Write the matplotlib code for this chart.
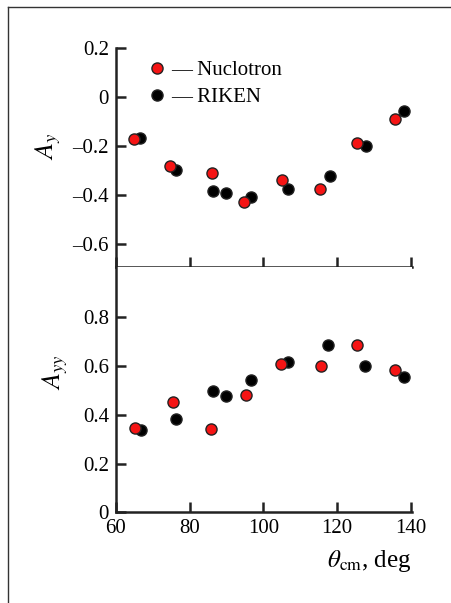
import numpy as np
import matplotlib
matplotlib.use("Agg")
import matplotlib.pyplot as plt
from matplotlib.lines import Line2D

plt.rcParams['font.family'] = ['Liberation Serif', 'DejaVu Serif']
plt.rcParams['mathtext.fontset'] = 'stix'

# A_y data
ay_nuc_theta = [64.9, 74.6, 86.0, 94.8, 104.9, 115.3, 125.5, 135.6]
ay_nuc = [-0.171, -0.280, -0.312, -0.430, -0.339, -0.377, -0.189, -0.090]
ay_rik_theta = [66.6, 76.2, 86.2, 89.9, 96.7, 106.7, 118.1, 127.7, 138.1]
ay_rik = [-0.169, -0.299, -0.384, -0.393, -0.407, -0.377, -0.322, -0.199, -0.057]

# A_yy data
ayy_nuc_theta = [65.1, 75.4, 85.7, 95.4, 104.8, 115.6, 125.5, 135.6]
ayy_nuc = [0.347, 0.451, 0.341, 0.482, 0.609, 0.598, 0.688, 0.584]
ayy_rik_theta = [66.7, 76.3, 86.2, 89.9, 96.7, 106.7, 117.6, 127.5, 138.1]
ayy_rik = [0.337, 0.382, 0.497, 0.475, 0.543, 0.616, 0.688, 0.601, 0.554]

xticks = [60, 80, 100, 120, 140]
ay_ticks = [0.2, 0, -0.2, -0.4, -0.6]
ayy_ticks = [0, 0.2, 0.4, 0.6, 0.8]

fig = plt.figure(figsize=(4.52, 6.03), dpi=100)

# frame lines (top and left)
fig.add_artist(Line2D([8/452, 1], [1 - 7/603, 1 - 7/603], transform=fig.transFigure, color='#333333', lw=1.0))
fig.add_artist(Line2D([8/452, 8/452], [0, 1 - 7/603], transform=fig.transFigure, color='#333333', lw=1.0))

left, width = 0.2566, 0.6549
ax1 = fig.add_axes([left, 0.5572, width, 0.9204 - 0.5572])
ax2 = fig.add_axes([left, 0.1504, width, 0.5572 - 0.1504])

mk = dict(linestyle='none', marker='o', markersize=8, markeredgecolor='#222222', markeredgewidth=1.0)

ax1.plot(ay_nuc_theta, ay_nuc, markerfacecolor='#f51414', label='— Nuclotron', zorder=3, **mk)
ax1.plot(ay_rik_theta, ay_rik, markerfacecolor='black', label='— RIKEN', zorder=2, **mk)
ax2.plot(ayy_nuc_theta, ayy_nuc, markerfacecolor='#f51414', zorder=3, **mk)
ax2.plot(ayy_rik_theta, ayy_rik, markerfacecolor='black', zorder=2, **mk)

for ax in (ax1, ax2):
    ax.set_xlim(60, 140.3)
    ax.set_xticks(xticks)
    for s in ('top', 'right'):
        ax.spines[s].set_visible(False)
    for s in ('left', 'bottom'):
        ax.spines[s].set_linewidth(1.8)
        ax.spines[s].set_color('#222222')
    ax.tick_params(direction='in', length=7, width=1.8, color='#222222', labelsize=15, pad=5)

ax1.set_ylim(-0.694, 0.2)
ax1.set_yticks(ay_ticks)
ax1.set_yticklabels(['0.2', '0', '\u20130.2', '\u20130.4', '\u20130.6'])
ax1.tick_params(axis='x', labelbottom=False)

ax2.set_ylim(0, 1.006)
ax2.set_yticks(ayy_ticks)
ax2.set_yticklabels(['0', '0.2', '0.4', '0.6', '0.8'])
ax2.set_xticklabels([str(t) for t in xticks])

ax1.set_ylabel(r'$A_y$', fontsize=19)
ax2.set_ylabel(r'$A_{yy}$', fontsize=19)
ax1.yaxis.set_label_coords(-0.18, 0.55)
ax2.yaxis.set_label_coords(-0.155, 0.57)

ax2.set_xlabel(r'$\theta_{\rm cm}$, deg', fontsize=18, loc='right', labelpad=7)

ax1.legend(loc='upper left', bbox_to_anchor=(0.06, 1.0), frameon=False, fontsize=15,
           handletextpad=0.2, handlelength=1.0, labelspacing=0.35, borderaxespad=0.2)

fig.savefig('out.png', dpi=100)
